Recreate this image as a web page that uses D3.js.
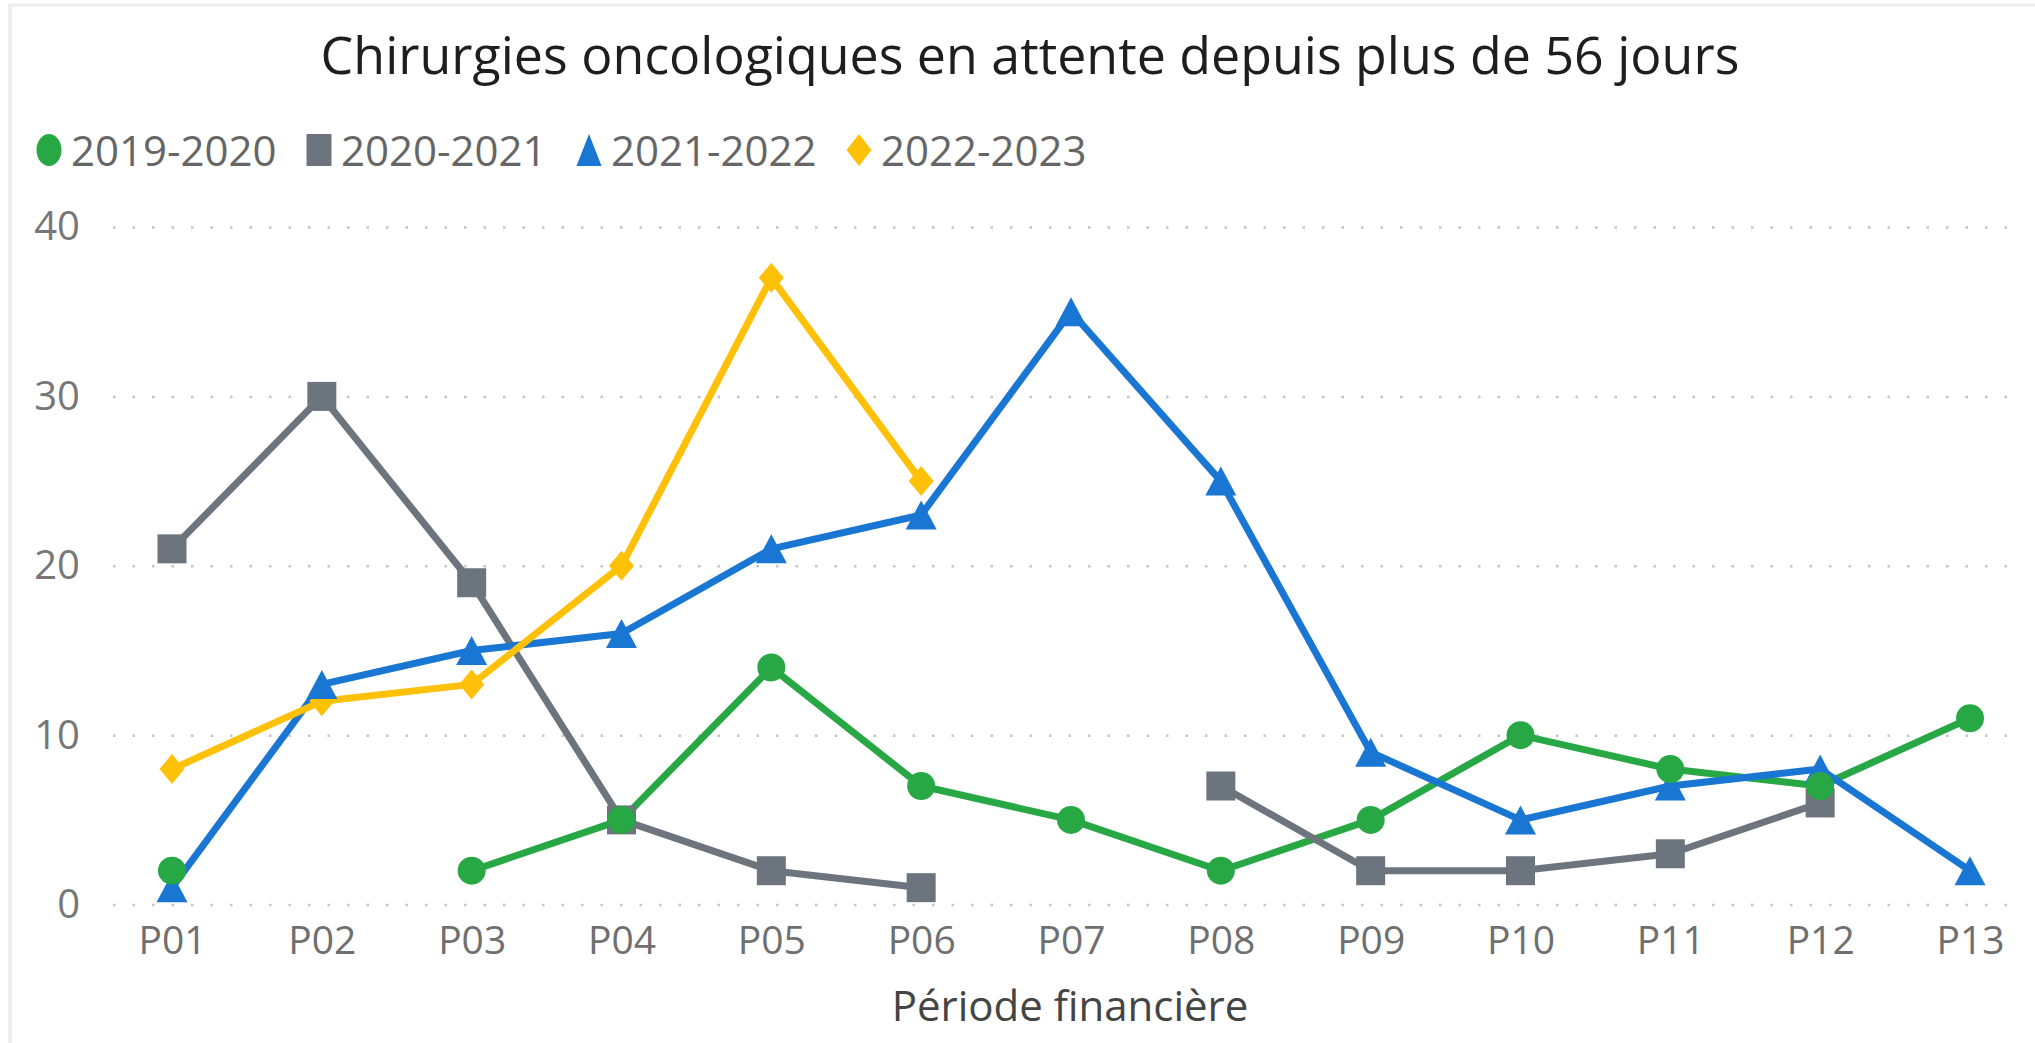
<!DOCTYPE html>
<html>
<head>
<meta charset="utf-8">
<script src="https://cdn.jsdelivr.net/npm/d3@7/dist/d3.min.js"></script>
<style>
  html, body { margin: 0; padding: 0; background: #ffffff; }
  svg { display: block; }
  text { font-family: "Segoe UI", "Open Sans", sans-serif; }
</style>
</head>
<body>
<svg id="chart" width="2035" height="1043"></svg>
<script>
// Financial periods on the x axis
const periods = ["P01","P02","P03","P04","P05","P06","P07","P08","P09","P10","P11","P12","P13"];

// Oncology surgeries waiting more than 56 days, per fiscal year
const seriesNames = ["2019-2020", "2020-2021", "2021-2022", "2022-2023"];
const values2019 = [2, null, 2, 5, 14, 7, 5, 2, 5, 10, 8, 7, 11];
const values2020 = [21, 30, 19, 5, 2, 1, null, 7, 2, 2, 3, 6, null];
const values2021 = [1, 13, 15, 16, 21, 23, 35, 25, 9, 5, 7, 8, 2];
const values2022 = [8, 12, 13, 20, 37, 25, null, null, null, null, null, null, null];

const yTicks = [0, 10, 20, 30, 40];
const titleText = "Chirurgies oncologiques en attente depuis plus de 56 jours";
const xTitleText = "Période financière";

const colors = ["#28a745", "#6c757d", "#1976d2", "#ffc107"];
const markerKinds = ["circle", "square", "triangle", "diamond"];

const allSeries = [values2019, values2020, values2021, values2022].map((vals, i) => ({
  name: seriesNames[i],
  color: colors[i],
  marker: markerKinds[i],
  points: vals.map((v, j) => ({ p: periods[j], v }))
}));

const svg = d3.select("#chart");

// light frame on the left and top edges
svg.append("line").attr("x1", 10).attr("x2", 10).attr("y1", 5).attr("y2", 1043)
  .attr("stroke", "#ededed").attr("stroke-width", 4);
svg.append("line").attr("x1", 8).attr("x2", 2035).attr("y1", 5).attr("y2", 5)
  .attr("stroke", "#ededed").attr("stroke-width", 3);

// scales
const x = d3.scalePoint().domain(periods).range([172, 1970]);
const y = d3.scaleLinear().domain([0, 40]).range([904.6, 227]);
const gridLeft = 113, gridRight = 2010;

// title, fitted to its width
const title = svg.append("text")
  .attr("x", 1030).attr("y", 74)
  .attr("text-anchor", "middle")
  .attr("fill", "#1e1e1e")
  .style("font-size", "50px")
  .text(titleText);
const tw = title.node().getComputedTextLength();
title.style("font-size", (50 * 1419 / tw) + "px");

// y axis with dotted gridlines
const yAxis = svg.append("g")
  .attr("transform", `translate(${gridLeft},0)`)
  .call(d3.axisLeft(y).tickValues(yTicks).tickSize(-(gridRight - gridLeft)).tickPadding(33));
yAxis.select(".domain").remove();
yAxis.selectAll(".tick line")
  .attr("stroke", "#c4c4c4").attr("stroke-width", 2.5)
  .attr("stroke-dasharray", "2.5,17");
yAxis.selectAll(".tick text")
  .attr("fill", "#777777")
  .style("font-size", "40px")
  .style("font-family", "\"Segoe UI\", \"Open Sans\", sans-serif");

// x axis labels
const xAxis = svg.append("g")
  .attr("transform", `translate(0,${y(0)})`)
  .call(d3.axisBottom(x).tickSize(0).tickPadding(49));
xAxis.select(".domain").remove();
xAxis.selectAll(".tick text")
  .attr("fill", "#6f6f6f")
  .style("font-size", "39px")
  .style("font-family", "\"Segoe UI\", \"Open Sans\", sans-serif")
  .attr("dy", "0");

// x axis title
svg.append("text")
  .attr("x", 1070).attr("y", 1021)
  .attr("text-anchor", "middle")
  .attr("fill", "#444444")
  .style("font-size", "42px")
  .text(xTitleText);

// marker shapes
function markerPath(kind, w, h) {
  const hw = w / 2, hh = h / 2;
  if (kind === "circle") {
    return `M${-hw},0 A${hw},${hh} 0 1,0 ${hw},0 A${hw},${hh} 0 1,0 ${-hw},0 Z`;
  }
  if (kind === "square") return `M${-hw},${-hh} H${hw} V${hh} H${-hw} Z`;
  if (kind === "triangle") return `M0,${-hh} L${hw},${hh} L${-hw},${hh} Z`;
  return `M0,${-hh} L${hw},0 L0,${hh} L${-hw},0 Z`;
}
const markerDims = {
  circle: [28, 28],
  square: [29, 29],
  triangle: [31, 29],
  diamond: [25, 30]
};

// lines
const line = d3.line()
  .defined(d => d.v != null)
  .x(d => x(d.p))
  .y(d => y(d.v));

const linesG = svg.append("g");
allSeries.forEach(s => {
  linesG.append("path")
    .datum(s.points)
    .attr("fill", "none")
    .attr("stroke", s.color)
    .attr("stroke-width", 7)
    .attr("stroke-linejoin", "round")
    .attr("d", line);
});

// markers, first series drawn last
const markersG = svg.append("g");
allSeries.slice().reverse().forEach(s => {
  const [w, h] = markerDims[s.marker];
  markersG.selectAll(null)
    .data(s.points.filter(d => d.v != null))
    .join("path")
    .attr("transform", d => `translate(${x(d.p)},${y(d.v)})`)
    .attr("d", markerPath(s.marker, w, h))
    .attr("fill", s.color);
});

// legend
const legendMarkerX = [49, 319, 589, 859];
const legend = svg.append("g");
allSeries.forEach((s, i) => {
  const g = legend.append("g").attr("transform", `translate(${legendMarkerX[i]},150)`);
  g.append("path").attr("d", markerPath(s.marker, 25, 32)).attr("fill", s.color);
  g.append("text")
    .attr("x", 22).attr("y", 16)
    .attr("fill", "#666666")
    .style("font-size", "42px")
    .text(s.name);
});
</script>
</body>
</html>
